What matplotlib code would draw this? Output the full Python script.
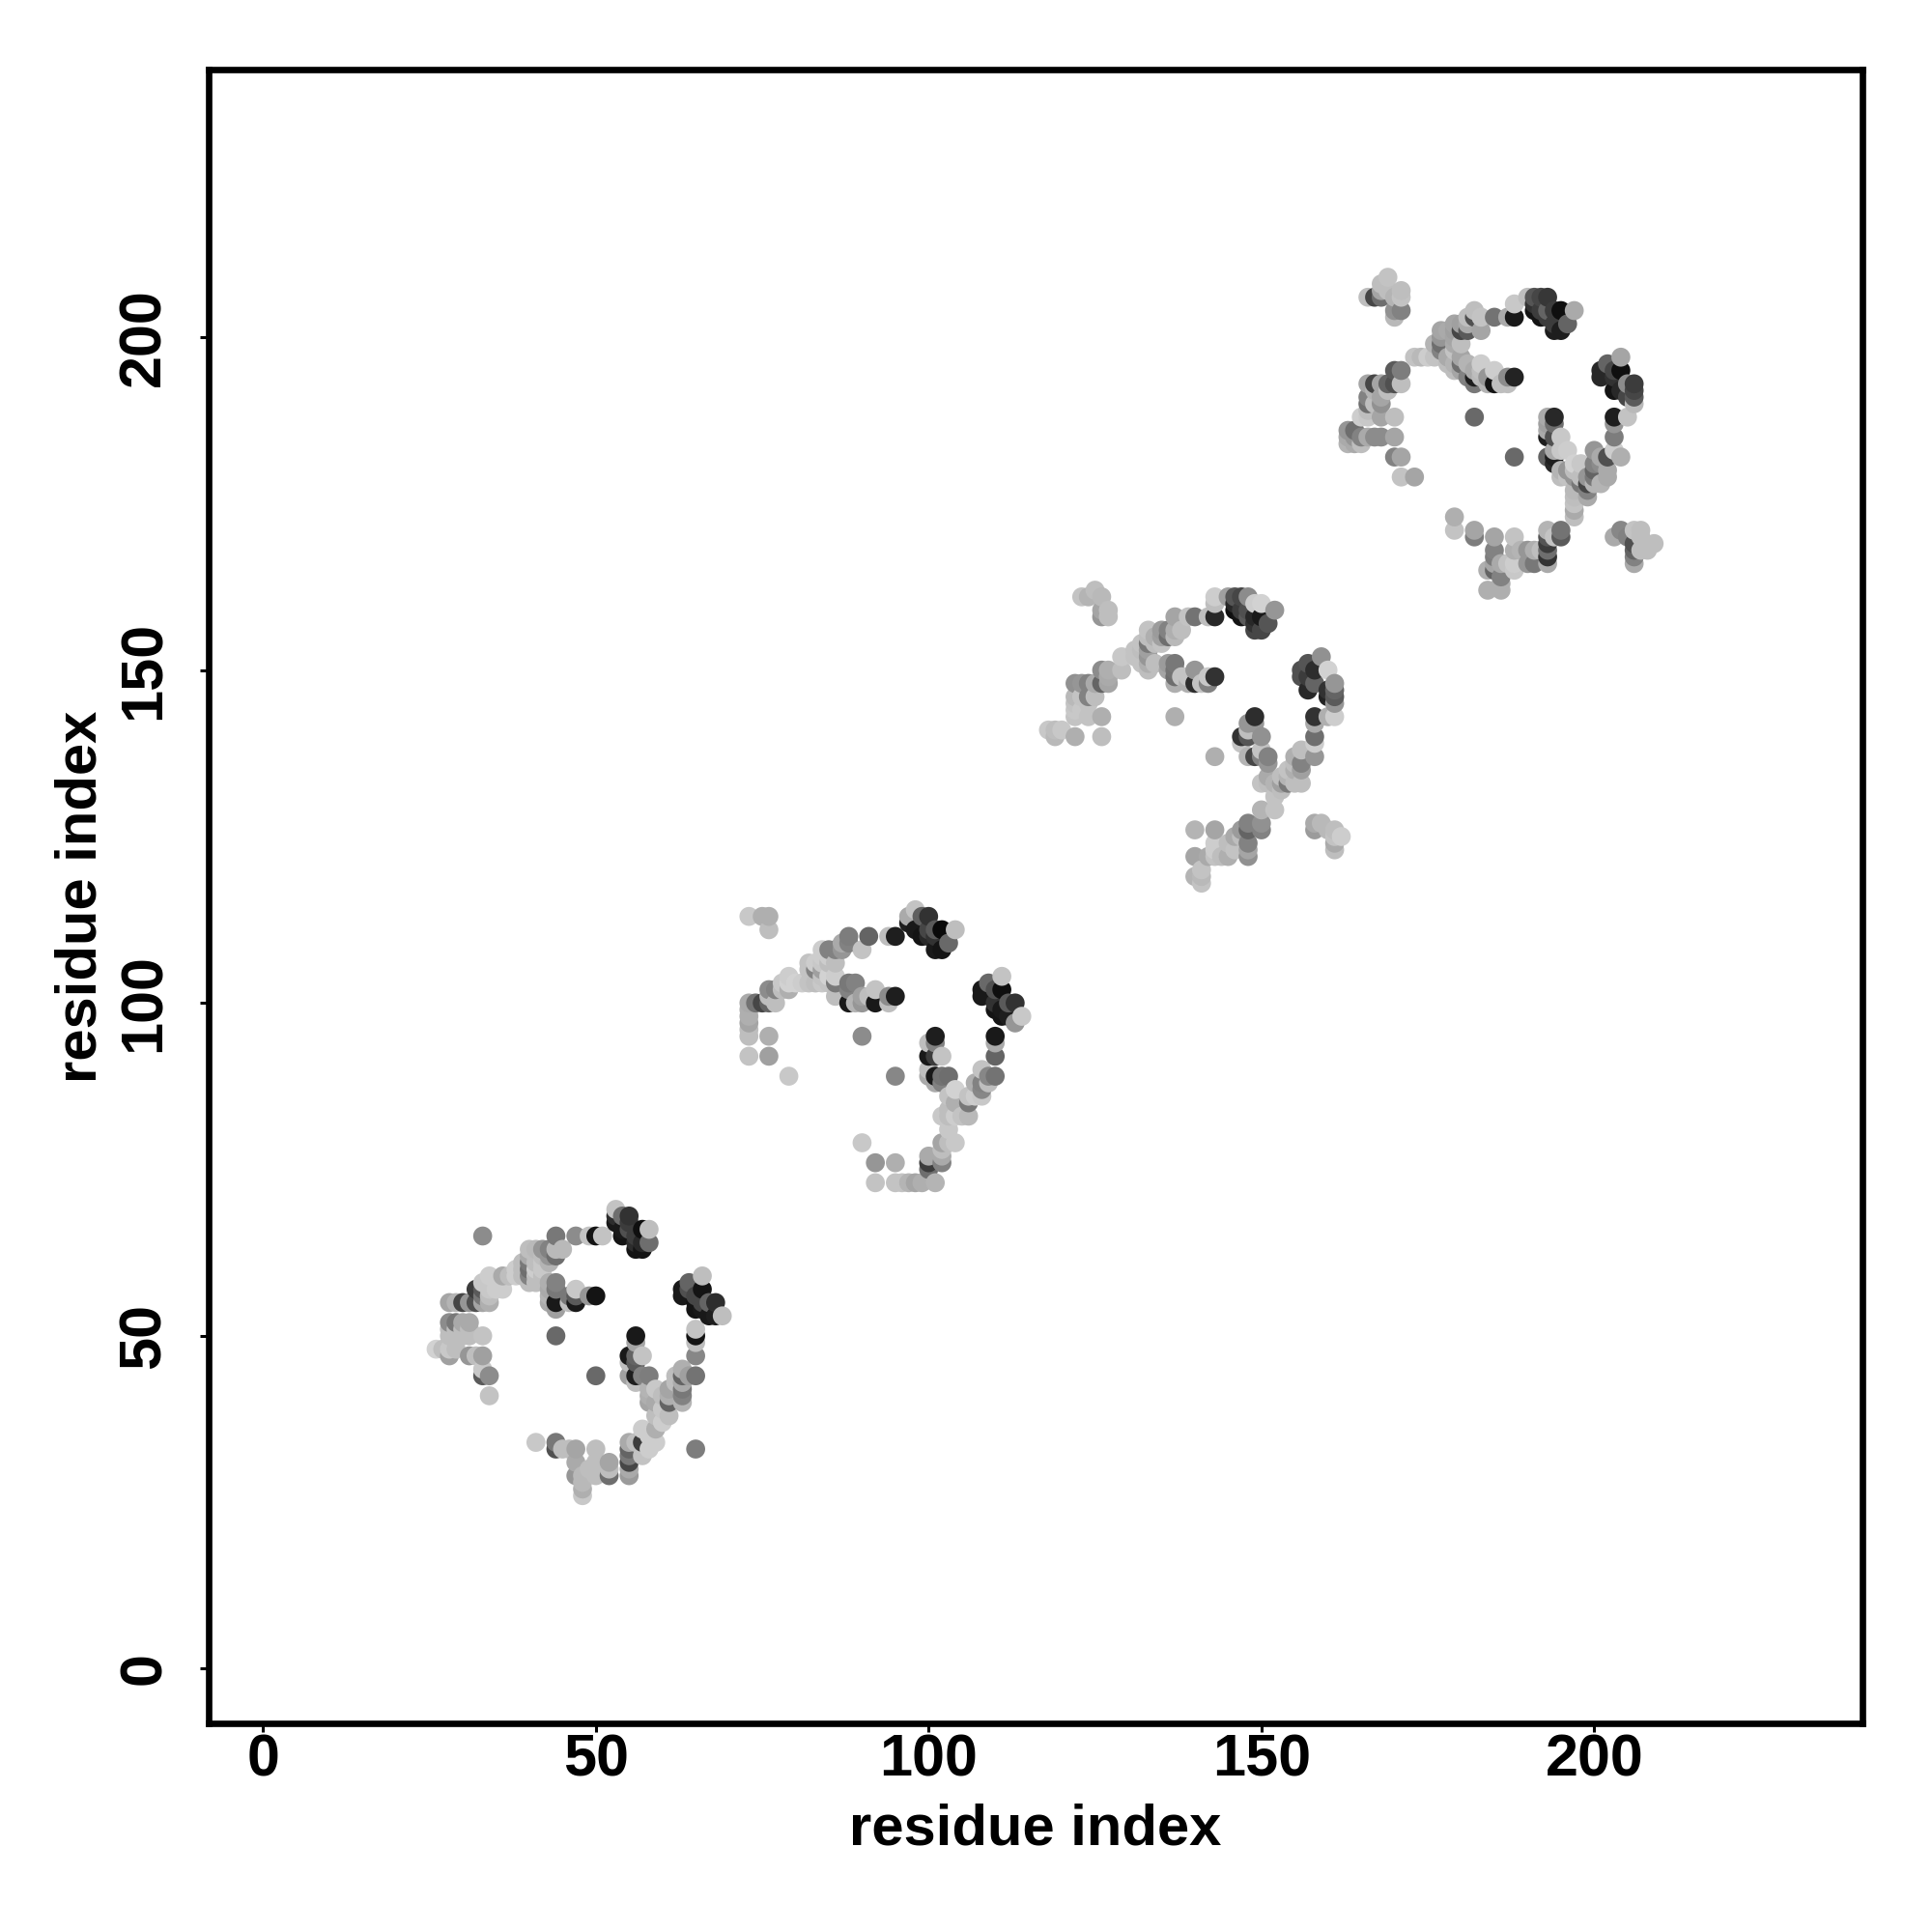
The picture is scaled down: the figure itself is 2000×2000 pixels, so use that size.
import numpy as np
import matplotlib
matplotlib.use('Agg')
import matplotlib.pyplot as plt

plt.rcParams['font.family'] = ['Liberation Sans', 'DejaVu Sans']

# each entry: residue i, residue j, grey level (0-255)
domain1 = [
    (33,65,140),(44,50,105),(50,44,105),(65,33,125),(34,41,195),(41,34,200),
    (53,69,195),(53,68,45),(53,67,25),(54,66,25),(54,65,20),(54,68,110),(55,68,50),(55,66,80),(55,67,60),
    (56,65,60),(56,64,45),(56,63,20),(57,63,20),(57,66,15),(57,64,40),(58,64,110),(58,66,190),
    (44,65,120),(47,65,140),(49,65,195),(50,65,20),(51,65,195),
    (45,63,185),(40,63,190),(41,63,185),(42,63,150),(43,63,130),(44,63,185),
    (40,62,170),(41,62,190),(42,62,190),(43,62,150),(44,62,110),
    (39,61,190),(40,61,120),(41,61,190),(42,61,200),(43,61,180),
    (38,60,205),(39,60,190),(40,60,110),(41,60,205),(42,60,200),
    (37,59,190),(38,59,205),(39,59,190),(40,59,130),(41,59,190),(42,59,190),(40,58,190),(41,58,190),
    (34,59,205),(36,59,170),(33,58,200),(32,57,60),(33,57,90),(34,57,200),(35,57,205),(36,57,205),
    (28,55,165),(29,55,180),(30,55,70),(31,55,150),(32,55,80),(33,55,165),(34,55,175),(34,56,190),(33,56,120),
    (28,52,140),(29,52,120),(30,52,170),(31,52,170),(28,51,190),(29,51,190),(30,51,190),(31,51,190),
    (33,50,195),(28,50,190),(29,50,190),(30,50,190),(31,50,190),
    (26,48,210),(27,48,190),(28,48,200),(29,48,190),(28,47,160),(31,47,150),(32,47,190),(33,47,160),
    (33,45,200),(33,44,90),(34,44,140),
    (43,58,175),(44,58,130),(43,57,170),(44,57,120),(46,56,120),(47,57,200),(47,55,25),(44,55,25),
    (46,55,190),(44,54,160),(43,56,180),(43,55,170),(50,56,20),(49,56,150),(47,56,90),
    (66,59,190),(64,58,100),(63,57,25),(63,56,25),(64,57,80),(66,57,20),(65,56,70),(65,55,20),(65,54,20),
    (67,55,100),(68,55,45),(67,53,25),(68,53,30),(69,53,190),(66,54,25),(66,55,70),
    (65,51,195),(65,50,20),(65,49,190),(65,47,135),(65,44,115),
    (56,50,25),(56,49,165),(55,47,25),(57,47,195),(56,47,100),(55,46,190),(56,46,90),
    (55,44,160),(56,44,30),(56,43,190),(57,44,130),(58,44,125),
    (59,42,200),(58,42,180),(58,41,175),(58,40,165),(59,40,170),(60,41,190),(61,42,165),(61,41,175),(61,40,100),
    (63,43,170),(63,42,120),(63,41,130),(63,40,180),(62,43,190),(63,45,175),(62,44,190),(64,44,160),(63,44,100),
    (61,38,190),(60,39,200),(59,38,190),(60,37,205),(59,36,175),(57,36,205),(58,35,205),(59,34,205),(57,34,60),
    (58,33,205),(57,32,195),
    (55,34,170),(56,34,190),(55,33,100),(55,32,120),(55,31,70),(55,30,170),(55,29,155),
    (44,34,120),(44,33,80),(45,33,190),(46,33,190),(47,33,165),(47,31,170),(47,29,150),(48,29,185),(48,28,185),
    (48,27,175),(48,26,200),(50,33,190),(50,31,190),(50,29,190),(52,31,165),(52,30,190),(52,29,110),(49,30,190),
]

domain2 = [
    (73,113,200),(75,113,175),(76,113,175),(76,111,190),
    (73,100,170),(73,99,175),(73,98,175),(73,97,165),(73,96,190),(73,95,190),(76,95,175),(73,92,195),(76,92,160),
    (79,89,200),(90,95,140),(95,89,135),(90,79,200),
    (92,76,150),(95,76,175),(92,73,195),(95,73,195),(96,73,195),(97,73,180),(98,73,165),(99,73,175),(101,73,180),
    (100,76,60),(100,77,170),(100,75,110),(102,76,130),(102,77,170),(102,78,190),(102,79,165),(103,79,190),(104,79,200),
    (103,81,200),(103,83,190),(102,83,200),(104,83,205),(106,83,185),(105,83,195),(103,84,190),(104,85,175),
    (103,86,195),(104,87,210),(106,86,195),(106,85,120),(107,86,205),(108,86,200),(108,87,135),(107,88,175),
    (108,88,130),(109,89,135),(110,89,115),(108,90,195),(109,88,190),
    (110,95,25),(110,94,170),(110,92,100),
    (101,95,30),(100,94,190),(101,94,130),(100,92,25),(101,92,60),(102,92,195),(100,90,190),(100,89,170),
    (101,89,25),(101,88,170),(102,89,115),(103,89,110),(102,88,130),
    (98,114,195),(97,113,170),(97,112,30),(99,113,95),(100,113,50),(98,111,25),(99,110,20),(101,111,90),
    (102,111,10),(104,111,190),(101,108,25),(102,108,20),(103,109,105),(100,111,70),(100,110,40),(101,110,50),
    (88,110,125),(91,110,100),(94,110,190),(95,110,30),
    (87,109,170),(88,109,130),(90,108,195),(86,108,130),(87,108,150),(85,108,130),(84,108,205),(84,107,205),(85,107,205),
    (83,106,205),(82,106,195),(82,105,195),(84,106,200),(85,106,190),(86,106,190),(83,105,130),(84,105,160),
    (85,104,210),(86,104,205),(84,104,195),(83,103,190),(82,103,195),(81,103,205),(80,103,210),(79,104,205),
    (79,103,210),(78,103,200),(79,102,175),(78,102,190),(77,102,130),(76,102,140),(76,101,190),(77,100,190),
    (75,100,70),(76,100,100),(74,100,115),
    (88,103,120),(89,103,130),(86,101,190),(88,100,25),(89,100,180),(90,101,160),(92,102,195),(92,100,25),
    (94,100,190),(94,101,140),(95,101,30),(88,102,130),(90,100,150),(91,101,190),(85,103,195),(84,103,200),(86,103,120),
    (111,104,195),(109,103,105),(108,102,25),(108,101,25),(110,102,80),(111,102,15),(110,100,50),(110,99,20),
    (111,99,25),(111,98,20),(113,100,50),(112,100,90),(114,98,200),(113,97,150),(112,98,30),
]

domain3 = [
    (123,161,195),(124,161,180),(125,162,190),(126,161,185),(126,159,165),(126,158,150),(127,158,190),(127,159,190),
    (137,158,165),(139,158,195),(140,158,115),(142,158,190),(143,158,40),(143,161,205),(143,160,190),
    (145,161,160),(146,161,85),(147,161,70),(148,161,140),(149,160,205),(150,160,210),(152,159,150),(146,160,40),
    (146,159,15),(147,159,60),(147,158,20),(148,158,90),(149,158,40),(150,158,25),(149,156,70),(150,156,70),
    (151,157,85),(148,159,80),(149,157,50),
    (133,156,195),(135,156,155),(136,156,130),(137,156,175),(138,156,190),(133,155,190),(134,155,175),(135,155,160),
    (136,155,110),(137,155,185),(132,154,195),(133,154,120),(134,154,190),(135,154,195),(129,152,200),(131,153,195),
    (131,152,195),(132,153,190),(133,153,160),(133,152,150),(134,151,190),(133,150,190),(133,151,175),(132,151,195),
    (129,150,190),(127,150,175),(126,150,140),(127,149,170),(122,148,145),(124,148,130),(123,148,150),(125,148,170),
    (126,148,100),(127,148,165),(122,146,185),(124,146,130),(125,146,190),(123,146,195),(122,145,195),(124,145,195),
    (122,144,200),(123,144,200),(122,143,195),(124,143,195),(126,143,175),
    (118,141,200),(119,141,190),(120,141,200),(119,140,185),(122,140,175),(126,140,190),(137,143,175),(143,137,175),
    (136,151,155),(137,151,120),(136,150,165),(137,150,115),(137,149,110),(137,148,175),(139,149,195),(140,150,150),
    (140,148,45),(139,148,175),(138,149,195),(141,148,195),(142,148,130),(142,149,200),(143,149,50),
    (159,152,145),(157,151,85),(156,150,80),(156,149,80),(158,150,45),(160,150,210),(157,149,60),(157,147,40),
    (158,148,100),(160,147,50),(161,148,150),(161,146,90),(161,147,100),(160,146,35),(161,145,150),(161,143,205),
    (160,143,175),(158,143,50),(158,142,170),(158,140,110),(158,139,205),(158,137,150),
    (149,143,45),(148,142,150),(149,142,150),(148,141,190),(150,140,145),(147,140,50),(147,139,195),(148,140,85),
    (148,137,180),(149,137,70),(150,137,130),(151,137,130),(151,136,150),(150,138,195),
    (156,138,190),(155,137,175),(156,136,130),(155,136,190),(155,135,175),(154,135,195),(156,135,160),(153,134,190),
    (154,134,180),(156,133,190),(155,133,190),(154,133,120),(153,133,160),(152,133,180),(151,133,190),(150,133,195),
    (151,134,170),(152,131,195),(153,132,190),(152,129,195),(150,129,180),
    (148,127,130),(150,127,145),(150,126,130),(147,126,155),(148,126,100),(146,125,170),(147,125,190),(148,124,130),
    (148,123,165),(148,122,145),(145,124,190),(146,123,195),(145,122,175),(144,122,190),(143,124,205),(143,123,205),
    (143,122,195),(142,122,170),(140,126,180),(143,126,165),(140,122,165),(141,120,195),(140,119,180),(141,119,185),(141,118,195),
    (158,127,170),(159,127,185),(158,126,155),(160,126,185),(161,126,190),(162,125,205),(161,125,195),(161,124,170),(161,123,190),
]

domain4 = [
    (166,206,190),(167,206,70),(168,206,110),(168,208,190),(169,209,195),(169,207,190),(170,206,180),(171,207,190),
    (171,206,195),(171,204,130),(170,204,145),(170,203,185),(168,207,165),
    (166,193,165),(167,193,70),(168,193,165),(169,193,100),(170,195,90),(171,195,125),(171,193,190),(170,193,80),
    (169,192,190),(168,191,165),(167,192,180),(166,191,130),(166,190,110),(167,190,190),(168,190,145),
    (165,188,205),(166,188,200),(168,188,165),(170,188,190),(166,189,190),
    (163,186,150),(164,186,110),(163,185,170),(164,185,150),(165,185,130),(166,185,170),(167,185,140),(168,185,140),
    (170,185,165),(164,184,170),(165,184,190),(163,184,180),(170,182,130),(171,182,165),(171,179,195),(173,179,165),
    (173,197,195),(174,197,185),(175,197,205),(176,197,195),(176,199,180),(177,201,165),(177,199,110),(177,200,150),
    (177,198,130),(178,201,170),(179,202,165),(179,201,160),(178,197,170),(178,196,190),(179,200,165),(179,199,170),
    (179,198,195),(180,199,190),(180,202,160),(180,201,70),(181,202,170),(181,201,90),(181,203,190),(182,204,190),
    (182,203,80),(183,203,195),(183,201,165),(185,203,115),(187,203,170),(188,203,25),(188,205,200),(190,206,190),
    (179,196,180),(180,197,165),(180,196,110),(179,195,190),(180,195,165),(181,196,180),(182,195,170),(181,194,130),
    (182,194,30),(182,193,120),(183,196,205),(183,195,190),(184,194,150),(185,195,205),(185,193,20),(186,193,190),
    (187,193,190),(187,194,140),(188,194,35),(183,194,185),(184,193,180),
    (182,188,105),(188,182,105),
    (191,206,85),(192,206,70),(193,206,55),(191,205,50),(191,204,20),(192,203,20),(192,204,60),(193,204,100),
    (194,204,60),(195,204,15),(197,204,170),(194,201,30),(195,201,30),(196,202,100),(193,203,60),(194,202,60),
    (204,197,165),(202,196,100),(201,195,40),(201,194,40),(203,195,70),(204,195,15),(203,194,50),(203,192,20),
    (204,192,40),(205,193,140),(206,193,60),(206,192,70),(206,191,90),(205,191,70),(206,190,185),
    (203,188,30),(205,188,195),(203,187,150),(203,185,125),
    (194,188,40),(193,188,170),(193,187,160),(194,187,110),(193,186,170),(193,185,30),(194,185,80),(195,185,200),
    (193,182,100),(194,182,30),(194,183,170),(195,183,200),(196,183,205),(194,181,40),(195,180,180),(196,180,150),
    (197,181,210),(197,180,190),(198,179,190),(197,179,150),(198,181,200),(196,179,195),(195,179,190),
    (200,183,150),(201,182,170),(202,182,80),(203,183,205),(204,182,175),(200,181,130),(201,181,140),(200,180,100),
    (202,180,170),(199,179,150),(200,179,120),(201,178,180),(202,179,170),(199,177,130),(200,178,180),(199,178,70),
    (198,178,120),(197,177,185),(199,176,170),(197,176,190),(197,175,195),(197,174,170),(197,173,190),
    (179,173,175),(179,171,195),(182,171,165),(182,170,125),(185,170,165),(188,170,195),(185,168,130),(185,167,125),
    (185,166,165),(186,166,170),(184,165,175),(185,165,100),(186,164,130),(186,163,175),(184,162,175),(186,162,175),
    (188,168,175),(188,166,205),(187,166,195),(188,165,200),(189,168,180),(190,168,150),(191,168,175),(190,166,150),
    (191,166,120),(192,168,190),(193,170,85),(193,171,180),(193,169,60),(193,168,110),(193,167,50),(193,166,170),
    (194,170,195),(195,171,115),(195,170,90),
    (203,170,170),(204,171,135),(205,170,130),(206,171,195),(207,171,190),(206,169,80),(207,170,190),(206,168,100),
    (206,167,130),(206,166,170),(207,168,190),(208,168,190),(209,169,190),
]

tick_values = [0, 50, 100, 150, 200]

pts = np.array(domain1 + domain2 + domain3 + domain4, dtype=float)
# points were plotted residue by residue, so later i sits on top
pts = pts[np.lexsort((pts[:, 1], pts[:, 0]))]
greys = np.repeat(pts[:, 2:3] / 255, 3, axis=1)

fig = plt.figure(figsize=(10, 10), dpi=200)
ax = fig.add_axes([216 / 2000, 216 / 2000, 1712 / 2000, 1712 / 2000])

ax.scatter(pts[:, 0], pts[:, 1], s=50, c=greys, linewidths=0)

ax.set_xlim(-8.17, 240.3)
ax.set_ylim(-8.2, 240.2)
ax.set_xticks(tick_values)
ax.set_yticks(tick_values)
ax.tick_params(axis='x', length=3.2, width=1.1, pad=0.5, labelsize=22)
ax.tick_params(axis='y', length=3.2, width=1.1, pad=10.2, labelsize=22)
for lab in ax.get_xticklabels() + ax.get_yticklabels():
    lab.set_fontweight('bold')
for lab in ax.get_yticklabels():
    lab.set_rotation(90)
    lab.set_va('center')
for side in ax.spines.values():
    side.set_linewidth(2.4)

ax.set_xlabel('residue index', fontsize=21.5, fontweight='bold', va='baseline')
ax.xaxis.set_label_coords(0.5, -0.0733)
ax.set_ylabel('residue index', fontsize=21.5, fontweight='bold', va='baseline')
ax.yaxis.set_label_coords(-0.068, 0.5)

fig.savefig('out.png', dpi=200, facecolor='white')
